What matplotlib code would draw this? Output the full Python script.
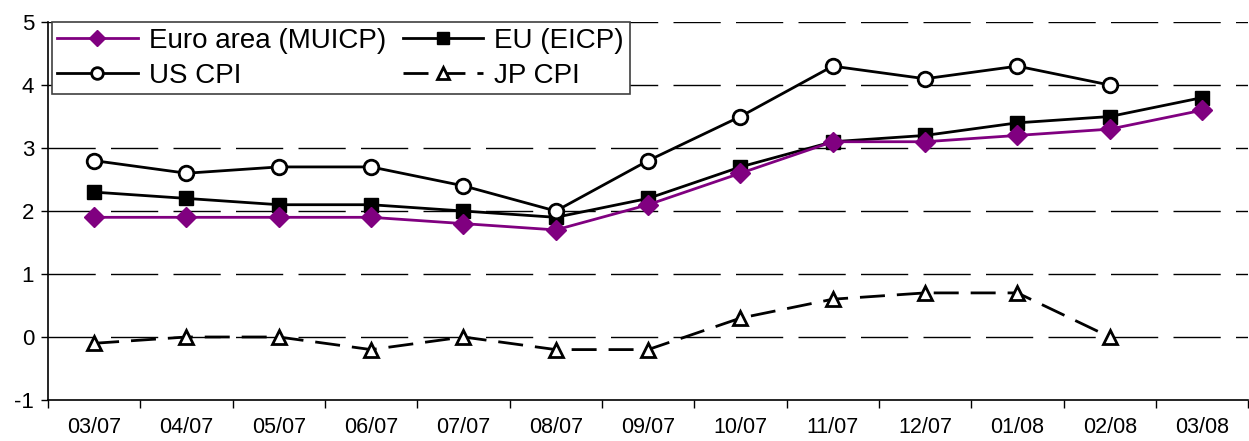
import numpy as np
import matplotlib.pyplot as plt

plt.rcParams['font.family'] = ['Liberation Sans', 'DejaVu Sans']
plt.rcParams['axes.unicode_minus'] = False

months = ["03/07", "04/07", "05/07", "06/07", "07/07", "08/07", "09/07",
          "10/07", "11/07", "12/07", "01/08", "02/08", "03/08"]
euro_area = [1.9, 1.9, 1.9, 1.9, 1.8, 1.7, 2.1, 2.6, 3.1, 3.1, 3.2, 3.3, 3.6]
eu = [2.3, 2.2, 2.1, 2.1, 2.0, 1.9, 2.2, 2.7, 3.1, 3.2, 3.4, 3.5, 3.8]
us_cpi = [2.8, 2.6, 2.7, 2.7, 2.4, 2.0, 2.8, 3.5, 4.3, 4.1, 4.3, 4.0]
jp_cpi = [-0.1, 0.0, 0.0, -0.2, 0.0, -0.2, -0.2, 0.3, 0.6, 0.7, 0.7, 0.0]

fig = plt.figure(figsize=(12.49, 4.41), dpi=100)
ax = fig.add_axes([0.0384, 0.093, 0.961, 0.857])

x = np.arange(len(months))

# dashed gridlines
for yv in range(0, 6):
    ax.axhline(yv, color='black', lw=1, dashes=(34, 11), zorder=0)

l1, = ax.plot(x, euro_area, color='#800080', lw=2, marker='D', ms=10.5,
              label='Euro area (MUICP)', zorder=4)
l2, = ax.plot(x, eu, color='black', lw=2, marker='s', ms=10.5,
              label='EU (EICP)', zorder=3)
l3, = ax.plot(x[:len(us_cpi)], us_cpi, color='black', lw=2, marker='o', ms=10.5,
              mfc='white', mew=2, label='US CPI', zorder=3)
l4, = ax.plot(x[:len(jp_cpi)], jp_cpi, color='black', lw=2, marker='^', ms=10.5,
              mfc='white', mew=2, dashes=(9, 4.3), label='JP CPI', zorder=3)

ax.set_xlim(-0.5, len(months) - 0.5)
ax.set_ylim(-1, 5)
ax.set_yticks(range(-1, 6))
ax.set_xticks(x)
ax.set_xticklabels(months)
ax.set_xticks(np.arange(-0.5, len(months), 1), minor=True)
ax.tick_params(axis='x', which='major', length=0, pad=12, labelsize=15.5)
ax.tick_params(axis='x', which='minor', length=6, width=1)
ax.tick_params(axis='y', length=5, width=1, labelsize=16, pad=5)

for s in ['top', 'right']:
    ax.spines[s].set_visible(False)
ax.spines['left'].set_linewidth(1.2)
ax.spines['bottom'].set_linewidth(1.2)

leg = ax.legend(handles=[l1, l3, l2, l4], ncol=2, loc='upper left',
                bbox_to_anchor=(0.003, 1.0), fontsize=20, frameon=True,
                fancybox=False, edgecolor='#404040', handlelength=2.9,
                handletextpad=0.4, columnspacing=0.6, borderpad=0.2,
                labelspacing=0.33, borderaxespad=0, markerscale=0.8)
leg.get_frame().set_linewidth(1.2)
leg.get_frame().set_alpha(1)

fig.savefig('out.png', dpi=100)
